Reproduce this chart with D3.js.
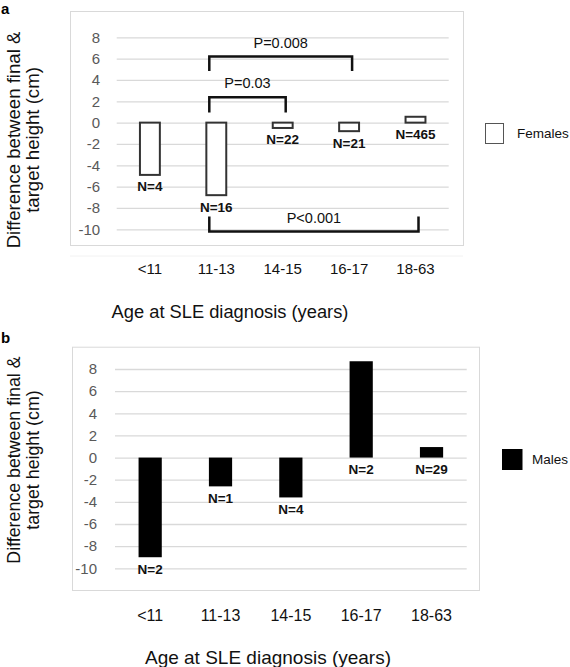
<!DOCTYPE html>
<html>
<head>
<meta charset="utf-8">
<script src="https://cdn.jsdelivr.net/npm/d3@7"></script>
<style>
  html, body { margin: 0; padding: 0; background: #fff; }
  svg { display: block; font-family: "Liberation Sans", Arial, sans-serif; }
</style>
</head>
<body>
<svg id="chart" width="570" height="667"></svg>
<script>
// ---- data ----
const categories = ["<11", "11-13", "14-15", "16-17", "18-63"];
const femaleValues = [-4.9, -6.8, -0.5, -0.8, 0.55];
const femaleN = ["N=4", "N=16", "N=22", "N=21", "N=465"];
const maleValues = [-9.0, -2.6, -3.6, 8.7, 0.95];
const maleN = ["N=2", "N=1", "N=4", "N=2", "N=29"];
const yTicks = [8, 6, 4, 2, 0, -2, -4, -6, -8, -10];
const femaleComparisons = [
  { from: "11-13", to: "16-17", label: "P=0.008", level: 6.2, leg: 4.85 },
  { from: "11-13", to: "14-15", label: "P=0.03", level: 2.38, leg: 0.95 },
  { from: "11-13", to: "18-63", label: "P<0.001", level: -10.2, leg: -8.8 }
];
const yTitleLines = ["Difference between final &", "target height (cm)"];
const xTitle = "Age at SLE diagnosis (years)";

const svg = d3.select("#chart");

function panel(opts) {
  const g = svg.append("g");
  const x = d3.scaleBand().domain(categories)
    .range([opts.x0, opts.x1]).paddingInner(0.67).paddingOuter(0.335);
  const y = d3.scaleLinear().domain([-10, 8]).range([opts.yBottom, opts.yTop]);

  // frame
  g.append("rect")
    .attr("x", opts.frame[0] + 0.5).attr("y", opts.frame[1] + 0.5)
    .attr("width", opts.frame[2] - opts.frame[0]).attr("height", opts.frame[3] - opts.frame[1])
    .attr("fill", "none").attr("stroke", "#d9d9d9").attr("stroke-width", 1);
  if (opts.underline) {
    g.append("line")
      .attr("x1", opts.frame[0]).attr("x2", opts.frame[2])
      .attr("y1", opts.frame[3] + 11).attr("y2", opts.frame[3] + 11)
      .attr("stroke", "#f2f2f2").attr("stroke-width", 1);
  }

  // y axis with gridlines
  const yAxis = d3.axisLeft(y).tickValues(yTicks)
    .tickSize(-(opts.x1 - opts.x0)).tickPadding(opts.tickPad)
    .tickFormat(d => d3.format("d")(d).replace("\u2212", "-"));
  const ya = g.append("g").attr("transform", `translate(${opts.x0},0)`).call(yAxis);
  ya.select(".domain").remove();
  ya.selectAll(".tick line").attr("stroke", "#d9d9d9").attr("stroke-width", 1.3);
  ya.selectAll(".tick text").attr("fill", "#595959").attr("font-size", 15)
    .attr("font-family", "Liberation Sans, Arial, sans-serif");

  // bars
  const bw = x.bandwidth();
  g.selectAll("rect.bar").data(opts.values).join("rect")
    .attr("class", "bar")
    .attr("x", (d, i) => x(categories[i]) + (opts.hollow ? 1 : 0))
    .attr("width", opts.hollow ? bw - 2 : bw)
    .attr("y", d => y(Math.max(0, d)))
    .attr("height", d => Math.abs(y(d) - y(0)))
    .attr("fill", opts.hollow ? "#fff" : "#000")
    .attr("stroke", opts.hollow ? "#333" : "none")
    .attr("stroke-width", 2);

  // N labels
  g.selectAll("text.nlab").data(opts.nLabels).join("text")
    .attr("class", "nlab")
    .attr("x", (d, i) => x(categories[i]) + bw / 2)
    .attr("y", (d, i) => y(Math.min(0, opts.values[i])) + 16.5)
    .attr("text-anchor", "middle").attr("font-size", 13.5).attr("font-weight", "bold")
    .attr("fill", "#111").text(d => d);

  // x labels
  g.selectAll("text.xlab").data(categories).join("text")
    .attr("class", "xlab")
    .attr("x", d => x(d) + bw / 2).attr("y", opts.xLabY)
    .attr("text-anchor", "middle").attr("font-size", opts.xLabSize).attr("fill", "#111")
    .text(d => d);

  // x title
  g.append("text").attr("x", opts.xTitleX).attr("y", opts.xTitleY)
    .attr("text-anchor", "middle").attr("font-size", opts.xTitleSize).attr("fill", "#111")
    .text(xTitle);

  // y title
  const yt = g.append("text")
    .attr("transform", `translate(20,${opts.yTitleY}) rotate(-90)`)
    .attr("text-anchor", "middle").attr("font-size", opts.yTitleSize).attr("fill", "#111");
  yTitleLines.forEach((t, i) => {
    yt.append("tspan").attr("x", 0).attr("y", i * 18.5).text(t);
  });

  // panel letter
  g.append("text").attr("x", 1).attr("y", opts.letterY)
    .attr("font-size", 15).attr("font-weight", "bold").attr("fill", "#000")
    .text(opts.letter);

  // legend
  g.append("rect")
    .attr("x", opts.legend[0] + 0.5).attr("y", opts.legend[1] + 0.5)
    .attr("width", opts.legend[2]).attr("height", opts.legend[3])
    .attr("fill", opts.hollow ? "#fff" : "#000")
    .attr("stroke", opts.hollow ? "#555" : "#000").attr("stroke-width", 1);
  g.append("text")
    .attr("x", opts.legend[0] + opts.legend[2] + opts.legendGap)
    .attr("y", opts.legend[1] + opts.legend[3] / 2 + 5)
    .attr("font-size", 13.5).attr("fill", "#111").text(opts.legendLabel);

  return { g, x, y, bw };
}

const A = panel({
  x0: 116.7, x1: 448.7, yTop: 37.3, yBottom: 229.3, tickPad: 16.5,
  frame: [70, 11, 463, 245], underline: true,
  values: femaleValues, nLabels: femaleN, hollow: true,
  xLabY: 274, xLabSize: 15, xTitleX: 230, xTitleY: 318, xTitleSize: 18.3,
  yTitleY: 140, yTitleSize: 18.6, letter: "a", letterY: 14,
  legend: [485, 123, 18, 20], legendLabel: "Females", legendGap: 14
});

const B = panel({
  x0: 115, x1: 466.7, yTop: 369, yBottom: 568.3, tickPad: 18,
  frame: [72, 346.7, 479, 590], underline: false,
  values: maleValues, nLabels: maleN, hollow: false,
  xLabY: 621, xLabSize: 16, xTitleX: 268, xTitleY: 663.5, xTitleSize: 19,
  yTitleY: 460, yTitleSize: 17.8, letter: "b", letterY: 343,
  legend: [502, 449, 19.5, 20], legendLabel: "Males", legendGap: 10.5
});

// significance brackets (panel a)
const bg = A.g.append("g");
femaleComparisons.forEach(c => {
  const xl = A.x(c.from) + A.bw / 2 - 7;
  const xr = A.x(c.to) + A.bw / 2 + 3;
  const yl = A.y(c.level), yleg = A.y(c.leg);
  bg.append("path")
    .attr("d", `M${xl},${yleg} V${yl} H${xr} V${yleg}`)
    .attr("fill", "none").attr("stroke", "#111").attr("stroke-width", 2.5);
  const above = c.leg < c.level;
  bg.append("text")
    .attr("x", (xl + xr) / 2)
    .attr("y", above ? yl - 9 : yl - 8.5)
    .attr("text-anchor", "middle").attr("font-size", 14.5).attr("fill", "#111")
    .text(c.label);
});
</script>
</body>
</html>
